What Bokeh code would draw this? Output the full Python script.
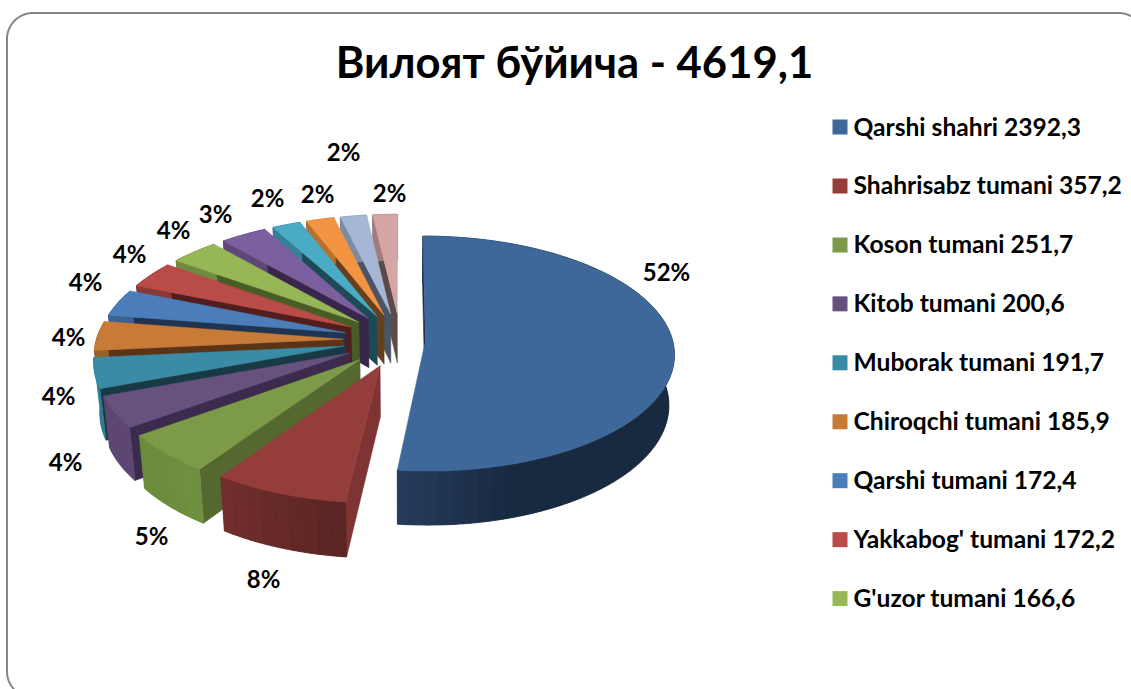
import numpy as np
from bokeh.plotting import figure
from bokeh.models import ColumnDataSource, Range1d
from bokeh.core.properties import value
from bokeh.embed import file_html
from bokeh.resources import INLINE

# ---------- data ----------
TITLE = "Вилоят бўйича - 4619,1"
districts = ["Qarshi shahri", "Shahrisabz tumani", "Koson tumani", "Kitob tumani",
             "Muborak tumani", "Chiroqchi tumani", "Qarshi tumani", "Yakkabog' tumani",
             "G'uzor tumani", "Kamashi tumani", "Kasbi tumani", "Nishon tumani",
             "Dehqonobod tumani", "Mirishkor tumani"]
amounts = [2392.3, 357.2, 251.7, 200.6, 191.7, 185.9, 172.4, 172.2, 166.6,
           160.0, 98.0, 96.0, 90.0, 84.5]
amount_labels = ["2392,3", "357,2", "251,7", "200,6", "191,7", "185,9", "172,4", "172,2", "166,6"]
percent_labels = ["52%", "8%", "5%", "4%", "4%", "4%", "4%", "4%", "4%", "3%", "2%", "2%", "2%", "2%"]

# ---------- styles ----------
top_colors = ["#3e6899", "#953d3b", "#7d9a48", "#67517f", "#3a8ba5", "#c87b36", "#4a7db9",
              "#b94b48", "#97b656", "#7c5f9f", "#4aabc5", "#f39443", "#a6b7d6", "#d6a5a5"]
edge_colors = ["#1a2b40", "#7e3432", "#546830", "#3b2c4e", "#183a44", "#5b3417", "#1f3450",
               "#4f1e1d", "#485d26", "#38274a", "#1d4a56", "#66401c", "#4b5464", "#5b4a4a"]
wall_near = ["#273d5e", "#742f2d", "#6a8a3c", "#5d4672", "#2f7a90", "#9a5e28", "#3a6290",
             "#8a3835", "#728a40", "#5e4878", "#38809a", "#b87030", "#7d8aa0", "#a07c7c"]
wall_far = ["#182a40", "#5a2523", "#6f8f42", "#5d4672", "#2f7a90", "#9a5e28", "#3a6290",
            "#8a3835", "#728a40", "#5e4878", "#38809a", "#b87030", "#7d8aa0", "#a07c7c"]

# page-pixel layout
PAGE_W, PAGE_H = 1131, 689
CX, CY = 400.0, 339.5
A, B, K = 247.0, 115.9, 0.11
A2, B2, DEPTH = 0.98 * 247.0, 119.5, 50.0
EXPLODE = [0.101] + [0.232] * 13
LABEL_X = [666, 263, 151, 65, 58, 68, 85, 129, 173, 215, 267, 317, 343, 389]
LABEL_Y = [270.5, 577.5, 534.5, 460.5, 394.5, 335.5, 280.5, 252.5, 228.5, 212.5, 196.5, 192.5, 150.5, 191.5]
LEG_X, LEG_Y0, LEG_STEP, LEG_SWATCH = 832, 119, 58.95, 15
TEXT_RISE = 6.5
FONT = "Lato"
BAND_PX = 14


def hex_mix(a, b, t):
    ca = [int(a[i:i + 2], 16) for i in (1, 3, 5)]
    cb = [int(b[i:i + 2], 16) for i in (1, 3, 5)]
    return "#%02x%02x%02x" % tuple(round(x + (y - x) * t) for x, y in zip(ca, cb))


def top_xy(U, V):
    w = 1 + K * V
    return CX + A * U / w, CY - B * V / w


def bot_xy(U, V):
    w = 1 + K * V
    return CX + A2 * U / w, CY + DEPTH - B2 * V / w


def corner(cx, cy, r, a0, a1):
    t = np.radians(np.linspace(a0, a1, 24))
    return list(cx + r * np.cos(t)), list(cy + r * np.sin(t))


p = figure(width=PAGE_W, height=PAGE_H, x_range=Range1d(0, PAGE_W), y_range=Range1d(PAGE_H, 0),
           toolbar_location=None, output_backend="svg", min_border=0,
           outline_line_color=None, background_fill_color="white", border_fill_color="white")
p.axis.visible = False
p.grid.visible = False

# chart frame: only three corners fall inside the picture
fx0, fy0, fr, fr_right = 6.5, 12.5, 26, 1118
bl = corner(fx0 + fr, 671, fr, 110, 180)
tl = corner(fx0 + fr, fy0 + fr, fr, 180, 270)
tr = corner(fr_right, fy0 + fr, fr, 270, 300)
p.line(bl[0] + tl[0] + tr[0], bl[1] + tl[1] + tr[1], line_color="#868686", line_width=2)

# pie
total = sum(amounts)
fracs = np.array(amounts) / total
edges = np.concatenate([[0], np.cumsum(fracs)]) * 360

for i in [0] + list(range(len(amounts) - 1, 0, -1)):
    t0, t1 = edges[i], edges[i + 1]
    mid = np.radians((t0 + t1) / 2)
    ou, ov = EXPLODE[i] * np.sin(mid), EXPLODE[i] * np.cos(mid)
    th = np.radians(np.linspace(t0, t1, max(6, int((t1 - t0) * 2))))
    au, av = ou + np.sin(th), ov + np.cos(th)

    # radial wall on the leading edge
    tx, ty = top_xy(np.array([ou, au[0]]), np.array([ov, av[0]]))
    bx, by = bot_xy(np.array([ou, au[0]]), np.array([ov, av[0]]))
    p.patch([tx[0], tx[1], bx[1], bx[0]], [ty[0], ty[1], by[1], by[0]],
            fill_color=edge_colors[i], line_color=edge_colors[i], line_width=0.5)

    # outer wall: solid base first, then overlapping shaded bands
    tx, ty = top_xy(au, av)
    bx, by = bot_xy(au, av)
    p.patch(np.concatenate([tx, bx[::-1]]), np.concatenate([ty, by[::-1]]),
            fill_color=wall_far[i], line_color=wall_far[i], line_width=0.5)
    xmin, xmax = tx.min(), tx.max()
    # bands about BAND_PX wide on screen; each band is a contiguous run of the arc
    band = np.floor((tx - xmin) / BAND_PX).astype(int)
    cuts = np.nonzero(np.diff(band))[0] + 1
    for idx in np.split(np.arange(len(tx)), cuts):
        lo, hi = idx[0], min(idx[-1] + 2, len(tx))
        if hi - lo < 2:
            continue
        s = (tx[lo] - xmin) / max(1.0, xmax - xmin)
        col = hex_mix(wall_near[i], wall_far[i], s if i else min(1, s * 2.2))
        p.patch(np.concatenate([tx[lo:hi], bx[lo:hi][::-1]]),
                np.concatenate([ty[lo:hi], by[lo:hi][::-1]]),
                fill_color=col, line_color=col, line_width=0.3)

    # top face
    vx, vy = top_xy(np.array([ou]), np.array([ov]))
    p.patch(np.concatenate([vx, tx]), np.concatenate([vy, ty]),
            fill_color=top_colors[i], line_color=top_colors[i], line_width=0.5)

# percent labels
src = ColumnDataSource(dict(x=LABEL_X, y=LABEL_Y, t=percent_labels))
p.text(x="x", y="y", text="t", source=src, text_font=value(FONT), text_font_style="bold",
       text_font_size="24px", text_align="center", text_baseline="middle", text_color="black")

# title
p.text(x=[574], y=[60.5], text=[TITLE], text_font=value(FONT), text_font_style="bold",
       text_font_size="43.6px", text_align="center", text_baseline="middle", text_color="black")

# legend
rows = [f"{d} {a}" for d, a in zip(districts, amount_labels)]
ys = [LEG_Y0 + k * LEG_STEP for k in range(len(rows))]
p.quad(left=[LEG_X] * len(rows), right=[LEG_X + LEG_SWATCH] * len(rows), top=ys,
       bottom=[y + LEG_SWATCH for y in ys], fill_color=top_colors[:len(rows)], line_color=None)
p.text(x=[LEG_X + 21] * len(rows), y=[y + TEXT_RISE for y in ys], text=rows, text_font=value(FONT),
       text_font_style="bold", text_font_size="24.6px", text_align="left", text_baseline="middle",
       text_color="black")

open("out.html", "w").write(file_html(p, INLINE))
